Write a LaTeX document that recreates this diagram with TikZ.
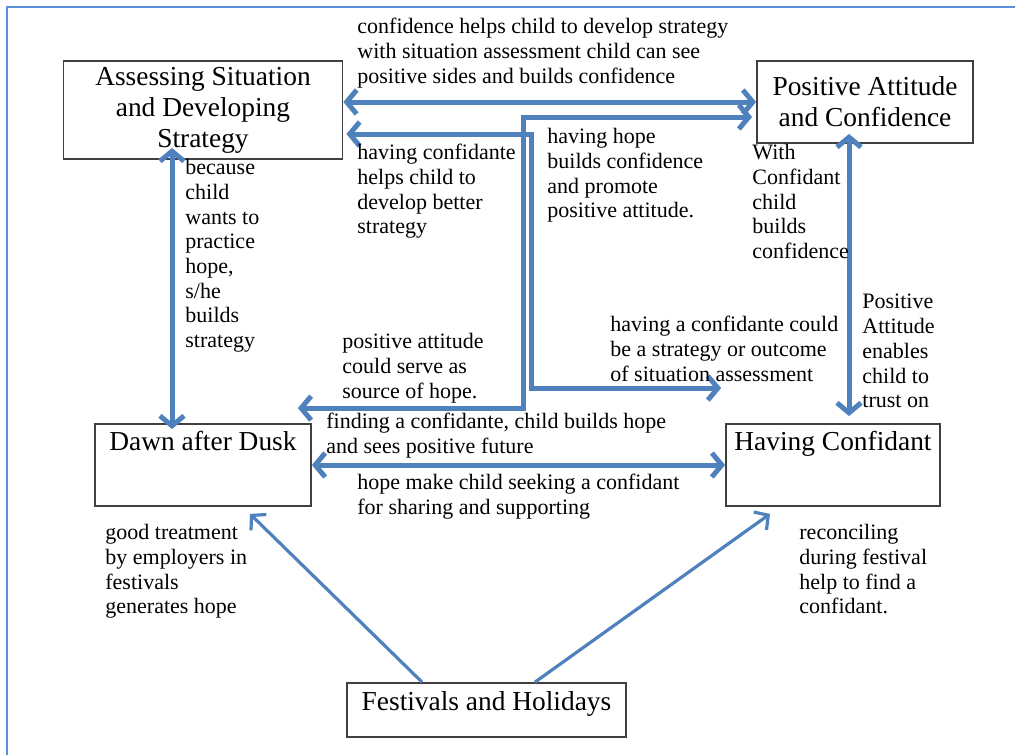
\documentclass[tikz,border=0pt]{standalone}
\usepackage{fontspec}
\setmainfont{Liberation Serif}
\usepackage{tikz}
\usetikzlibrary{arrows.meta, positioning, calc}
\definecolor{linkblue}{HTML}{4F81BD}
\definecolor{frameblue}{HTML}{5B8ED6}

\begin{document}
\begin{tikzpicture}[x=0.5pt, y=-0.5pt,
    every node/.style={font=\fontsize{11}{12.35}\selectfont},
    stage/.style={draw=black!75, line width=0.9pt, align=center, inner sep=3pt, font=\fontsize{13.7}{15.5}\selectfont},
    note/.style={align=left, anchor=north west, inner sep=0pt},
    link/.style={draw=linkblue, line width=2.5pt, {Straight Barb[length=5pt,width=12pt]}-{Straight Barb[length=5pt,width=12pt]}},
    feed/.style={draw=linkblue, line width=1.6pt, -{Straight Barb[length=5pt,width=11pt]}}]
  \useasboundingbox (0,0) rectangle (1015,755);
  \draw[frameblue, line width=1pt] (7,755) -- (7,7) -- (1015,7);

  \node[stage, minimum width=139.5pt, minimum height=49pt] (assess) at (203,110) {Assessing Situation\\and Developing\\Strategy};
  \node[stage, minimum width=108pt, minimum height=41pt] (attitude) at (865,102) {Positive Attitude\\and Confidence};
  \node[stage, minimum width=108pt, text height=10pt, text depth=25pt] (dawn) at (203,465) {Dawn after Dusk};
  \node[stage, minimum width=107pt, text height=10pt, text depth=25pt] (confidant) at (833,465) {Having Confidant};
  \node[stage, minimum width=139.5pt, text height=10.5pt, text depth=10.5pt] (festival) at (486.5,710) {Festivals and Holidays};

  \draw[link] (assess.east |- attitude.west) -- (attitude.west);
  \draw[link] ($(assess.east)+(3,24)$) -| ($(confidant.north west)+(-194,-35)$) -- ($(confidant.north west)+(-4,-35)$);
  \draw[link] ($(dawn.north east)+(-14,-15)$) -| ($(attitude.west)+(-233,15)$) -- ($(attitude.west)+(-4,15)$);
  \draw[link] ($(assess.south)+(-31,-12)$) -- ($(dawn.north)+(-31,6)$);
  \draw[link] ($(attitude.south)+(-16,-10)$) -- ($(confidant.north)+(16,-7)$);
  \draw[link] (dawn.east) -- (confidant.west);
  \draw[feed] ($(festival.north)+(-64.5,0)$) -- ($(dawn.south)+(47,7)$);
  \draw[feed] ($(festival.north)+(48.5,0)$) -- ($(confidant.south)+(-63,7)$);

  \node[note] (devnote) at (357,18) {confidence helps child to develop strategy\\with situation assessment child can see\\positive sides and builds confidence};
  \node[note] (betternote) at (357,144) {having confidante\\helps child to\\develop better\\strategy};
  \node[note] (hopenote) at (547,128) {having hope\\builds confidence\\and promote\\positive attitude.};
  \node[note] (withnote) at (752,144) {With\\Confidant\\child\\builds\\confidence};
  \node[note] (practicenote) at (185,159) {because\\child\\wants to\\practice\\hope,\\s/he\\builds\\strategy};
  \node[note] (sourcenote) at (342,333) {positive attitude\\could serve as\\source of hope.};
  \node[note] (findnote) at (326,413) {finding a confidante, child builds hope\\and sees positive future};
  \node[note] (seeknote) at (357,474) {hope make child seeking a confidant\\for sharing and supporting};
  \node[note] (outcomenote) at (610,316) {having a confidante could\\be a strategy or outcome\\of situation assessment};
  \node[note] (trustnote) at (862,294) {Positive\\Attitude\\enables\\child to\\trust on};
  \node[note] (treatnote) at (105,524) {good treatment\\by employers in\\festivals\\generates hope};
  \node[note] (reconcilenote) at (799,524) {reconciling\\during festival\\help to find a\\confidant.};
\end{tikzpicture}
\end{document}
